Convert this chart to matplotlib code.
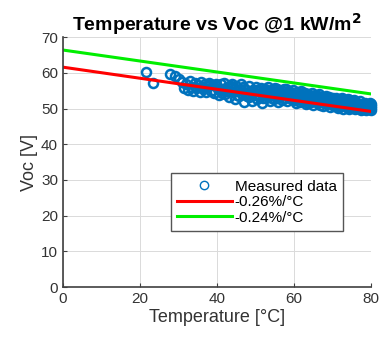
import matplotlib
matplotlib.use("Agg")
import matplotlib.pyplot as plt

plt.rcParams['font.family'] = ['Liberation Sans', 'DejaVu Sans']

# measured points: temperature [°C] and open-circuit voltage [V]
temp = [21.5, 23.5, 27.8, 29.0, 30.2,
        31.0, 31.5, 32.0, 32.4, 32.9, 33.3, 33.8, 34.2, 34.6, 35.0, 35.5,
        35.9, 36.3, 36.8, 37.2, 37.6, 38.0, 38.5, 38.9, 39.3, 39.8, 40.2,
        40.6, 41.0, 41.4, 41.8, 42.2, 42.6, 43.0, 43.4, 43.8, 44.2, 44.6,
        45.0, 45.4, 45.8, 46.2, 46.6, 47.0, 47.4, 47.8, 48.2, 48.6, 49.0,
        49.4, 49.8, 50.2,
        50.5, 50.8, 51.1, 51.4, 51.7, 52.0, 52.3, 52.6, 52.9, 53.2, 53.5,
        53.8, 54.1, 54.4, 54.7, 55.0, 55.3, 55.6, 55.9, 56.2, 56.5, 56.8,
        57.1, 57.4, 57.7, 58.0, 58.3, 58.6, 58.9, 59.2, 59.5, 59.8,
        60.1, 60.4, 60.7, 61.0, 61.3, 61.6, 61.9, 62.2, 62.5, 62.8, 63.1,
        63.4, 63.7, 64.0, 64.3, 64.6, 64.9, 65.2, 65.5, 65.8, 66.1, 66.4,
        66.7, 67.0, 67.3, 67.6, 67.9, 68.2, 68.5, 68.8, 69.1, 69.4, 69.7,
        70.0,
        70.3, 70.5, 70.8, 71.0, 71.3, 71.5, 71.8, 72.0, 72.3, 72.5, 72.8,
        73.0, 73.3, 73.5, 73.8, 74.0, 74.3, 74.5, 74.8, 75.0, 75.3, 75.5,
        75.8, 76.0, 76.3, 76.5, 76.8, 77.0, 77.3, 77.5, 77.8, 78.0, 78.3,
        78.5, 78.8, 79.0, 79.3, 79.5, 79.7, 79.9, 80.0, 80.0,
        36.0, 37.0, 38.2, 39.0, 40.0, 41.2, 42.0, 42.8, 43.6, 44.4, 45.2,
        46.0, 46.8, 47.6, 48.4, 49.2, 50.0, 50.7, 51.3, 51.9, 52.5, 53.0,
        53.7, 54.3, 54.9, 55.5, 56.0, 56.6, 57.2, 57.9, 58.5, 59.0, 59.6,
        60.2, 60.9, 61.5, 62.0, 62.7, 63.3, 63.9, 64.5, 65.0, 65.6, 66.2,
        66.9, 67.5, 68.0, 68.7, 69.3, 69.9, 70.4, 70.9, 71.4, 71.9, 72.4,
        72.9, 73.4, 73.9, 74.4, 74.9, 75.4, 75.9, 76.4, 76.9, 77.4, 77.9,
        78.4, 78.9, 79.4, 79.8, 80.0, 79.6, 78.6, 77.6, 76.6, 75.6, 74.6,
        73.6, 72.6, 71.6, 70.6, 69.6, 68.4, 67.1, 65.9, 64.7, 63.5, 62.3,
        61.1]
voc = [60.2, 57.3, 59.6, 59.2, 58.3,
       57.4, 55.9, 56.8, 55.2, 57.6, 56.1, 54.9, 57.2, 55.7, 56.6, 54.7,
       57.5, 55.4, 56.9, 54.6, 56.2, 57.3, 55.0, 56.5, 54.3, 57.0, 55.6,
       53.7, 56.8, 55.1, 57.2, 54.0, 56.1, 53.2, 55.7, 57.0, 54.6, 52.6,
       56.3, 55.0, 53.4, 56.8, 54.2, 51.8, 55.6, 53.6, 56.4, 54.8, 52.2,
       55.3, 53.9, 56.0,
       52.6, 54.9, 53.4, 55.8, 51.7, 54.2, 55.3, 52.9, 54.6, 56.0, 53.6,
       52.2, 55.1, 54.0, 52.7, 55.7, 53.3, 54.6, 51.9, 55.2, 53.9, 52.5,
       54.8, 55.6, 53.1, 54.2, 52.1, 55.0, 53.6, 54.5, 52.6, 55.3,
       53.8, 51.6, 54.6, 52.7, 53.9, 51.9, 54.9, 52.4, 53.5, 54.3, 51.3,
       52.9, 54.0, 52.1, 53.4, 54.5, 51.0, 52.7, 53.8, 51.8, 52.9, 54.0,
       51.1, 52.4, 53.3, 50.8, 52.0, 53.6, 51.4, 52.6, 53.2, 50.5, 51.9,
       53.0,
       50.6, 52.5, 51.3, 53.1, 50.2, 51.9, 52.7, 50.9, 51.6, 52.9, 50.0,
       51.2, 52.3, 50.6, 51.8, 52.6, 49.9, 51.0, 52.0, 50.4, 51.5, 52.3,
       49.8, 50.8, 51.7, 50.2, 51.2, 52.0, 49.7, 50.6, 51.4, 50.0, 51.0,
       51.6, 49.6, 50.4, 51.1, 49.8, 50.7, 51.3, 49.5, 50.1,
       56.0, 55.8, 56.9, 55.3, 56.4, 54.5, 55.6, 54.8, 56.3, 55.4, 53.9,
       55.4, 56.0, 54.5, 53.2, 54.4, 55.2, 53.8, 54.5, 53.0, 55.6, 53.9,
       54.8, 53.0, 54.3, 55.5, 53.2, 54.4, 53.0, 55.4, 53.4, 52.9, 54.1,
       52.4, 53.2, 54.2, 53.0, 52.0, 53.8, 53.0, 51.9, 53.3, 52.3, 53.5,
       51.9, 52.9, 51.6, 53.1, 52.0, 51.4, 51.8, 52.0, 51.0, 51.4, 52.3,
       50.6, 51.6, 50.3, 51.6, 50.8, 50.9, 51.9, 50.5, 50.9, 51.4, 50.3,
       50.6, 51.0, 50.3, 50.0, 50.8, 51.5, 50.2, 49.9, 51.4, 50.1, 52.4,
       50.9, 51.3, 50.5, 51.5, 52.4, 52.3, 53.0, 52.6, 52.6, 51.7, 54.3,
       53.5]

# fitted lines (end points)
fit_t = [0, 80]
fit_026 = [61.6, 49.2]
fit_024 = [66.4, 54.1]

fig = plt.figure(figsize=(3.81, 3.41), dpi=100)
ax = fig.add_axes([0.165, 0.158, 0.809, 0.733])

ax.plot(temp, voc, 'o', mfc='none', mec='#0072BD', ms=6.5, mew=1.8,
        clip_on=False, label='Measured data')
ax.plot(fit_t, fit_026, color='#FF0000', lw=2.2, label='-0.26%/°C')
ax.plot(fit_t, fit_024, color='#00EE00', lw=2.2, label='-0.24%/°C')

ax.set_xlim(0, 80)
ax.set_ylim(0, 70)
ax.set_xticks([0, 20, 40, 60, 80])
ax.set_yticks(range(0, 71, 10))
ax.grid(True, color='#DADADA', lw=0.7)
ax.set_axisbelow(True)
for s in ['top', 'right']:
    ax.spines[s].set_visible(False)
for s in ['left', 'bottom']:
    ax.spines[s].set_color('#404040')
    ax.spines[s].set_linewidth(1.2)
ax.tick_params(direction='in', length=3, labelsize=11, colors='#404040',
               labelcolor='#333333')

ax.set_title('Temperature vs Voc @1 kW/m$^\\mathbf{2}$', fontsize=14,
             fontweight='bold', pad=4)
ax.set_xlabel('Temperature [°C]', fontsize=13, color='#333333', labelpad=2)
ax.set_ylabel('Voc [V]', fontsize=13, color='#333333', labelpad=2)

leg = ax.legend(loc='lower left', bbox_to_anchor=(0.325, 0.195), fontsize=11,
                handlelength=3.6, handletextpad=0.2, borderpad=0.4,
                labelspacing=0.1, fancybox=False, framealpha=1,
                edgecolor='#555555')
leg.get_frame().set_linewidth(1.0)
leg.get_lines()[0].set_markeredgewidth(1.0)
leg.get_lines()[0].set_markersize(6)

fig.savefig('out.png', dpi=100)
